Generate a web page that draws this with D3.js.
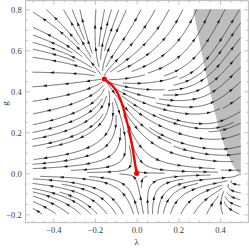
<!DOCTYPE html>
<html>
<head>
<meta charset="utf-8">
<script src="https://cdn.jsdelivr.net/npm/d3@7"></script>
<style>
  body { margin: 0; background: #fff; }
  svg { display: block; }
</style>
</head>
<body>
<div id="chart"></div>
<script>
// fixed points of the flow (lambda, g)
var fixedPoints = [[0, 0], [-0.155, 0.46]];

// red separatrix
var redLambda = [0.0, -0.008, -0.021, -0.035, -0.053, -0.071, -0.091, -0.115, -0.155];
var redG      = [0.0,  0.049,  0.130,  0.203,  0.276,  0.341,  0.390,  0.426,  0.46];

// edge of the grey region
var edgeLambda = [0.272, 0.30, 0.33, 0.353, 0.38, 0.405, 0.43, 0.455, 0.475, 0.49];
var edgeG      = [0.80,  0.65, 0.50, 0.40,  0.28, 0.18,  0.113, 0.05, 0.018, 0.0];

var xTicks = [-0.4, -0.2, 0.0, 0.2, 0.4];
var yTicks = [-0.2, 0.0, 0.2, 0.4, 0.6, 0.8];
var xRange = [-0.5, 0.5], yRange = [-0.2, 0.8];

// flow coefficients (IR direction): eta = g*B(lambda)
var kB = 0.576, A0 = -0.8, A2 = 7.35;

var width = 249, height = 248;
var frame = {left: 25.7, right: 248.3, top: 0.7, bottom: 222.7};

var x = d3.scaleLinear().domain(xRange).range([32.5, 240.8]);
var y = d3.scaleLinear().domain(yRange).range([214.3, 9.3]);

var ls = fixedPoints[1][0], gs = fixedPoints[1][1];
var mB = 2 / gs - kB / Math.pow(1 - 2 * ls, 2);
var A1 = (4 * ls / gs - A0 - A2 * ls * ls) / ls;

function field(l, g) {
    var u = 1 - 2 * l;
    var eta = -g * (kB / (u * u + 0.002) + mB);
    var A = A0 + A1 * l + A2 * l * l;
    return [(2 - eta) * l - g * A, -(2 + eta) * g];
}

var svg = d3.select("#chart").append("svg")
    .attr("width", width).attr("height", height)
    .attr("viewBox", [0, 0, width, height]);

// grey region
var region = edgeLambda.map(function(d, i) { return [d, edgeG[i]]; });
region.push([xRange[1], 0], [xRange[1], yRange[1]]);
svg.append("path")
    .attr("d", d3.line().x(d => x(d[0])).y(d => y(d[1]))(region) + "Z")
    .attr("fill", "#bdbdbd");

// ---- evenly spaced streamlines ----
var px0 = x(xRange[0]), px1 = x(xRange[1]), py0 = y(yRange[1]), py1 = y(yRange[0]);
var dsep = 6.4, dtest = 3.0, h = 0.7, maxLen = 170;
var cell = dsep;
var nx = Math.ceil((px1 - px0) / cell) + 1, ny = Math.ceil((py1 - py0) / cell) + 1;
var grid = [];
for (var i = 0; i < nx * ny; i++) grid.push([]);

function cellOf(px, py) {
    return [Math.floor((px - px0) / cell), Math.floor((py - py0) / cell)];
}
function tooClose(px, py, d) {
    var c = cellOf(px, py);
    for (var j = c[1] - 1; j <= c[1] + 1; j++) {
        if (j < 0 || j >= ny) continue;
        for (var i = c[0] - 1; i <= c[0] + 1; i++) {
            if (i < 0 || i >= nx) continue;
            var pts = grid[j * nx + i];
            for (var k = 0; k < pts.length; k++) {
                var dx = pts[k][0] - px, dy = pts[k][1] - py;
                if (dx * dx + dy * dy < d * d) return true;
            }
        }
    }
    return false;
}
function dir(px, py, sign) {
    var v = field(x.invert(px), y.invert(py));
    var sx = x(1) - x(0), sy = y(0) - y(1);
    var dx = v[0] * sx, dy = -v[1] * sy;
    var m = Math.hypot(dx, dy);
    if (m < 0.05) return null;
    return [sign * dx / m, sign * dy / m];
}
function inside(px, py) {
    return px >= px0 && px <= px1 && py >= py0 && py <= py1;
}
function nearFixed(px, py) {
    return fixedPoints.some(function(f) {
        return Math.hypot(x(f[0]) - px, y(f[1]) - py) < 2.5;
    });
}
function trace(px, py, sign) {
    var out = [], len = 0;
    var p = [px, py];
    while (len < maxLen / 2) {
        var d1 = dir(p[0], p[1], sign);
        if (!d1) break;
        var mid = [p[0] + d1[0] * h / 2, p[1] + d1[1] * h / 2];
        var d2 = dir(mid[0], mid[1], sign);
        if (!d2) break;
        var q = [p[0] + d2[0] * h, p[1] + d2[1] * h];
        if (!inside(q[0], q[1]) || tooClose(q[0], q[1], dtest) || nearFixed(q[0], q[1])) break;
        out.push(q);
        p = q;
        len += h;
    }
    return out;
}

var seeds = [];
[14, 7, 3.5].forEach(function(s) {
    for (var sy = py0 + s / 2; sy < py1; sy += s)
        for (var sx = px0 + s / 2; sx < px1; sx += s) seeds.push([sx, sy]);
});

var lines = [];
seeds.forEach(function(s) {
    if (tooClose(s[0], s[1], dsep) || nearFixed(s[0], s[1])) return;
    var fw = trace(s[0], s[1], 1);
    var bw = trace(s[0], s[1], -1);
    var pts = bw.reverse().concat([s], fw);
    if (pts.length * h < 9) return;
    pts.forEach(function(p) {
        var c = cellOf(p[0], p[1]);
        if (c[0] >= 0 && c[0] < nx && c[1] >= 0 && c[1] < ny) grid[c[1] * nx + c[0]].push(p);
    });
    lines.push(pts.map(function(p) { return [x.invert(p[0]), y.invert(p[1])]; }));
});

var streamLine = d3.line().x(d => x(d[0])).y(d => y(d[1]));
var streams = svg.append("g").attr("class", "streams");
streams.selectAll("path.stream")
    .data(lines)
    .enter().append("path")
    .attr("class", "stream")
    .attr("d", streamLine)
    .attr("fill", "none")
    .attr("stroke", "#2b2b2b")
    .attr("stroke-width", 0.7);

// arrow heads along each line
var arrows = [];
lines.forEach(function(ln) {
    var pp = ln.map(d => [x(d[0]), y(d[1])]);
    var cum = [0];
    for (var i = 1; i < pp.length; i++)
        cum.push(cum[i - 1] + Math.hypot(pp[i][0] - pp[i - 1][0], pp[i][1] - pp[i - 1][1]));
    var L = cum[cum.length - 1], gap = 22;
    var n = Math.max(1, Math.floor(L / gap));
    var start = (L - (n - 1) * gap) / 2;
    for (var k = 0; k < n; k++) {
        var s = start + k * gap, j = 1;
        while (j < cum.length - 1 && cum[j] < s) j++;
        var a = pp[Math.max(0, j - 2)], b = pp[Math.min(pp.length - 1, j + 1)];
        var dx = b[0] - a[0], dy = b[1] - a[1], m = Math.hypot(dx, dy) || 1;
        arrows.push({p: pp[j], dx: dx / m, dy: dy / m});
    }
});
streams.selectAll("path.arrow")
    .data(arrows)
    .enter().append("path")
    .attr("class", "arrow")
    .attr("d", function(d) {
        var tip = [d.p[0] + d.dx * 2.2, d.p[1] + d.dy * 2.2];
        var bx = d.p[0] - d.dx * 1.8, by = d.p[1] - d.dy * 1.8;
        return "M" + tip + "L" + [bx - d.dy * 1.4, by + d.dx * 1.4] +
               "L" + [bx + d.dy * 1.4, by - d.dx * 1.4] + "Z";
    })
    .attr("fill", "#1e1e1e");

// red separatrix
var red = redLambda.map(function(d, i) { return [d, redG[i]]; });
svg.append("path")
    .attr("d", d3.line().curve(d3.curveCatmullRom).x(d => x(d[0])).y(d => y(d[1]))(red))
    .attr("fill", "none")
    .attr("stroke", "#ff0000")
    .attr("stroke-width", 2.4);
svg.selectAll("circle.fp")
    .data([red[0], red[red.length - 1]])
    .enter().append("circle")
    .attr("class", "fp")
    .attr("cx", d => x(d[0])).attr("cy", d => y(d[1]))
    .attr("r", 2.6)
    .attr("fill", "#ff0000");

// ---- frame and ticks ----
var fmt = function(d) { return d3.format(".1f")(d).replace("-", "\u2212"); };
var minorX = d3.range(-0.5, 0.501, 0.05).filter(v => !xTicks.some(t => Math.abs(t - v) < 1e-6));
var minorY = d3.range(-0.2, 0.801, 0.05).filter(v => !yTicks.some(t => Math.abs(t - v) < 1e-6));

svg.append("rect")
    .attr("x", frame.left).attr("y", frame.top)
    .attr("width", frame.right - frame.left).attr("height", frame.bottom - frame.top)
    .attr("fill", "none").attr("stroke", "#a8a8a8").attr("stroke-width", 0.8);

function styleAxis(g) {
    g.select(".domain").remove();
    g.selectAll(".tick line").attr("stroke", "#a8a8a8").attr("stroke-width", 0.7);
    g.selectAll(".tick text").attr("fill", "#3a3a3a")
        .style("font-family", "'Liberation Serif', 'DejaVu Serif', serif")
        .style("font-size", "8.5px");
}

svg.append("g").attr("transform", "translate(0," + frame.bottom + ")")
    .call(d3.axisBottom(x).tickValues(xTicks).tickSizeInner(-4).tickSizeOuter(0).tickPadding(4).tickFormat(fmt))
    .call(styleAxis);
svg.append("g").attr("transform", "translate(0," + frame.bottom + ")")
    .call(d3.axisBottom(x).tickValues(minorX).tickSizeInner(-2).tickSizeOuter(0).tickFormat(""))
    .call(styleAxis);
svg.append("g").attr("transform", "translate(0," + frame.top + ")")
    .call(d3.axisTop(x).tickValues(xTicks).tickSizeInner(-4).tickSizeOuter(0).tickFormat(""))
    .call(styleAxis);
svg.append("g").attr("transform", "translate(0," + frame.top + ")")
    .call(d3.axisTop(x).tickValues(minorX).tickSizeInner(-2).tickSizeOuter(0).tickFormat(""))
    .call(styleAxis);

svg.append("g").attr("transform", "translate(" + frame.left + ",0)")
    .call(d3.axisLeft(y).tickValues(yTicks).tickSizeInner(-4).tickSizeOuter(0).tickPadding(4).tickFormat(fmt))
    .call(styleAxis);
svg.append("g").attr("transform", "translate(" + frame.left + ",0)")
    .call(d3.axisLeft(y).tickValues(minorY).tickSizeInner(-2).tickSizeOuter(0).tickFormat(""))
    .call(styleAxis);
svg.append("g").attr("transform", "translate(" + frame.right + ",0)")
    .call(d3.axisRight(y).tickValues(yTicks).tickSizeInner(-4).tickSizeOuter(0).tickFormat(""))
    .call(styleAxis);
svg.append("g").attr("transform", "translate(" + frame.right + ",0)")
    .call(d3.axisRight(y).tickValues(minorY).tickSizeInner(-2).tickSizeOuter(0).tickFormat(""))
    .call(styleAxis);

// axis labels
svg.append("text")
    .attr("x", x(0)).attr("y", 245)
    .attr("text-anchor", "middle")
    .style("font-family", "'Liberation Serif', 'DejaVu Serif', serif")
    .style("font-size", "9px").attr("fill", "#3a3a3a")
    .text("\u03bb");
svg.append("text")
    .attr("transform", "translate(8," + y(0.34) + ") rotate(-90)")
    .attr("text-anchor", "middle")
    .style("font-family", "'Liberation Serif', 'DejaVu Serif', serif")
    .style("font-size", "9px").attr("fill", "#3a3a3a")
    .text("g");
</script>
</body>
</html>
